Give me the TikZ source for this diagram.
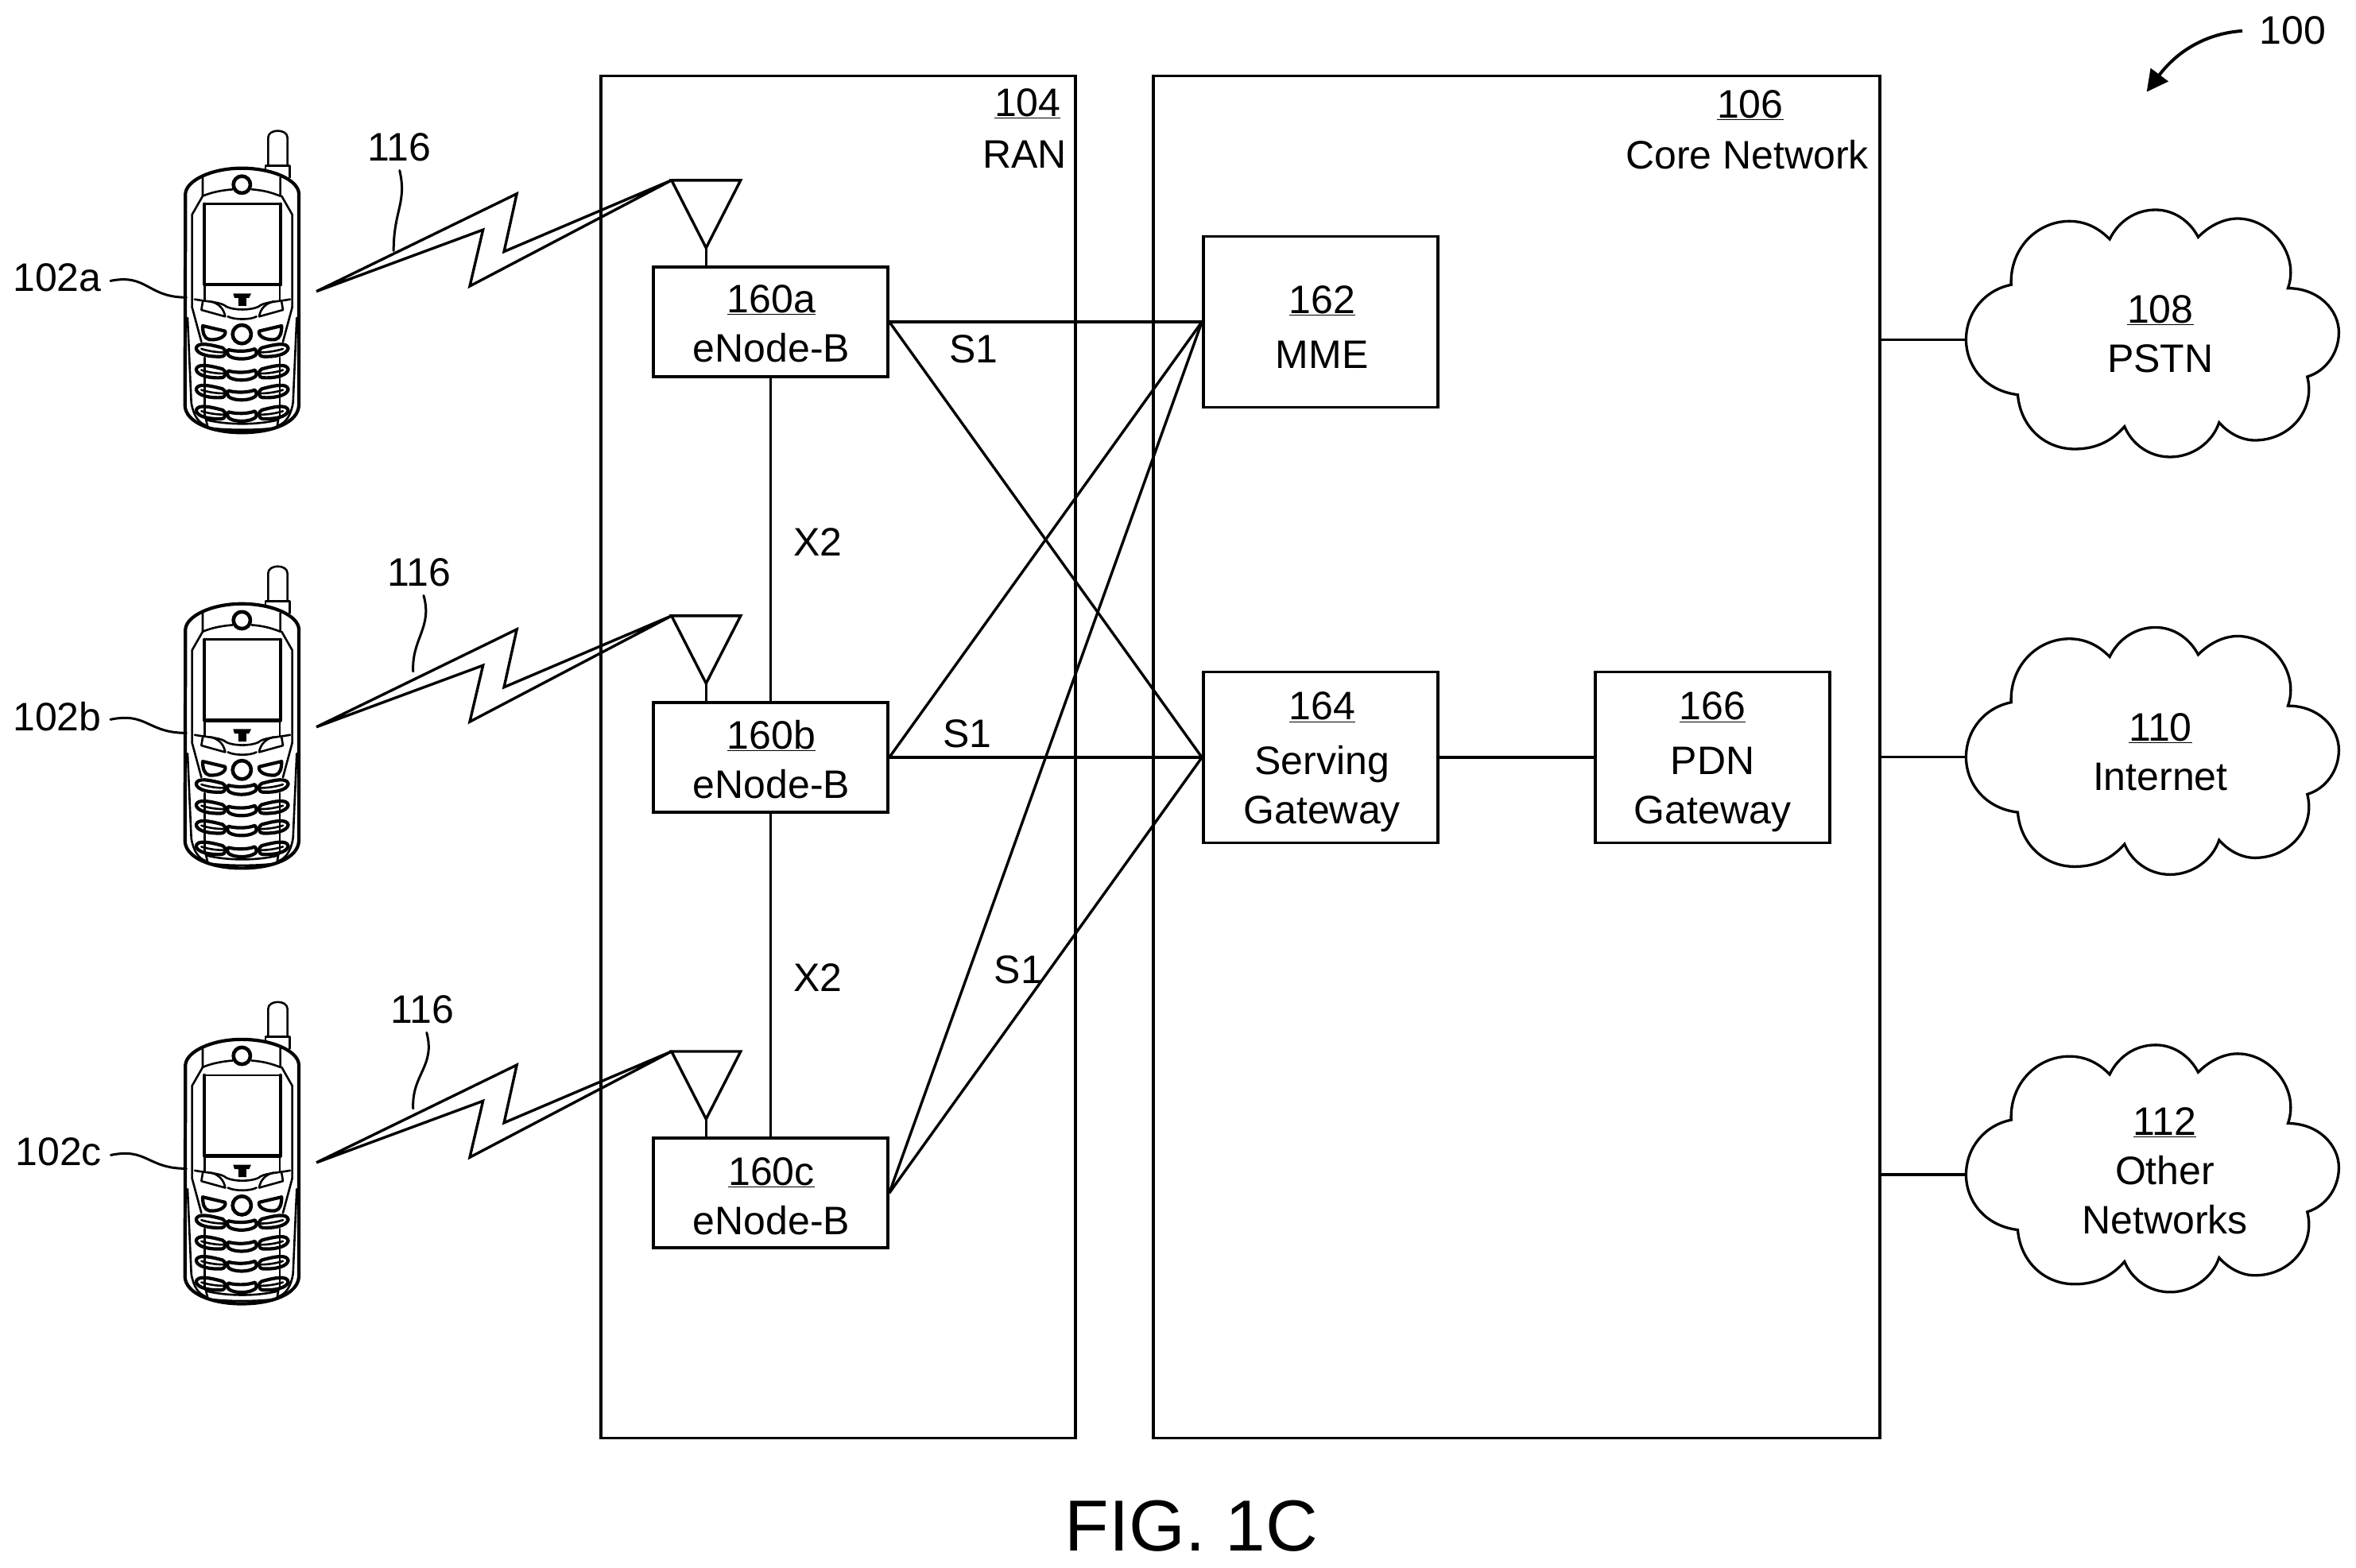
\documentclass[tikz,border=0pt]{standalone}
\usepackage{fontspec}
\setmainfont{Liberation Sans}
\usetikzlibrary{arrows.meta}
\tikzset{
  ln/.style={line width=3.4pt,line join=miter},
  lbl/.style={inner sep=0pt,font=\fontsize{50}{62}\selectfont,align=center},
  bigbox/.style={draw,ln,minimum width=#1,minimum height=1714pt,inner sep=0pt},
  smallbox/.style={draw,ln,minimum width=295pt,minimum height=138pt,inner sep=0pt},
  tallbox/.style={draw,ln,minimum width=295pt,minimum height=215pt,inner sep=0pt},
  ph/.style={line width=2.6pt,line join=round,line cap=round},
  phk/.style={line width=4.2pt,line join=round,line cap=round},
  leader/.style={line width=3pt,line cap=round},
}
\newcommand{\nm}[1]{\underline{#1}}
% cloud drawn around its left attachment point
\newcommand{\cloudat}[1]{%
  \begin{scope}[shift={(#1)},x=.3333pt,y=-.3333pt]
  \begin{scope}[shift={(-40,-562)}]
  \draw[ln,line width=3.3pt]
    (235,770) .. controls (110,755) and (40,660) .. (40,562)
    .. controls (40,460) and (110,375) .. (210,355)
    .. controls (205,215) and (310,115) .. (430,115)
    .. controls (490,115) and (540,140) .. (582,183)
    .. controls (615,115) and (680,72) .. (755,72)
    .. controls (825,72) and (885,115) .. (916,175)
    .. controls (960,130) and (1015,105) .. (1065,105)
    .. controls (1190,105) and (1300,240) .. (1255,368)
    .. controls (1370,368) and (1447,450) .. (1447,535)
    .. controls (1447,610) and (1400,680) .. (1328,702)
    .. controls (1360,830) and (1260,942) .. (1130,942)
    .. controls (1080,942) and (1030,915) .. (995,875)
    .. controls (970,950) and (895,1005) .. (810,1005)
    .. controls (730,1005) and (665,955) .. (638,890)
    .. controls (590,945) and (530,975) .. (450,975)
    .. controls (335,975) and (245,890) .. (235,770) -- cycle;
  \end{scope}\end{scope}}
\newcommand{\keyleft}[1]{%
  \draw[phk,yshift=#1*-.3333pt] (140,895) .. controls (145,870) and (190,880) .. (240,893)
     .. controls (255,900) and (255,925) .. (235,926)
     .. controls (195,928) and (145,920) .. (140,895) -- cycle;
  \draw[ph,yshift=#1*-.3333pt] (160,897) .. controls (185,905) and (215,910) .. (242,910);}
\newcommand{\softkeys}{%
  \draw[ph] (165,720) -- (160,750) -- (250,775) .. controls (245,745) and (225,725) .. (195,718);
  \draw[phk] (165,810) -- (250,830) .. controls (255,850) and (225,865) .. (190,862)
     .. controls (170,858) and (165,835) .. (165,810) -- cycle;
  \draw[ph] (125,740) -- (160,870);
  \draw[ph] (172,930) -- (172,1150);
  \draw[ph] (108,780) -- (122,1100) .. controls (130,1150) and (150,1175) .. (175,1185);
  \draw[ph] (165,320) -- (125,390) -- (125,740);
  \draw[ph] (172,655) -- (172,712);
  \keyleft{0}\keyleft{80}\keyleft{155}\keyleft{235}}
\newcommand{\phone}[1]{%
  \begin{scope}[shift={(105.82,{74.07+#1})},x=.3333pt,y=-.3333pt]
  \draw[ph] (412,205) -- (412,100) .. controls (412,65) and (485,65) .. (485,100) -- (485,205);
  \draw[ph] (402,225) -- (402,205) -- (493,205) -- (493,250);
  \draw[phk] (100,310) .. controls (105,260) and (200,215) .. (312,215)
     .. controls (430,215) and (525,260) .. (528,310) -- (528,1110)
     .. controls (525,1175) and (430,1213) .. (312,1213)
     .. controls (200,1213) and (100,1175) .. (98,1110) -- cycle;
  \draw[ph] (165,250) -- (165,320) .. controls (200,305) and (240,298) .. (278,295);
  \draw[ph] (458,250) -- (458,320) .. controls (420,305) and (390,298) .. (350,295);
  \draw[phk,line width=4.6pt] (313,277) circle [radius=32];
  \draw[phk] (172,350) -- (172,655) -- (458,655);
  \draw[ph] (172,350) -- (458,350);
  \draw[phk] (458,350) -- (458,655);
  \fill (280,688) -- (348,688) -- (340,705) -- (330,705) -- (330,735) -- (300,735) -- (300,705) -- (285,705) -- cycle;
  \draw[ph] (135,710) .. controls (190,720) and (235,720) .. (255,738) .. controls (285,752) and (345,752) .. (375,738) .. controls (395,720) and (440,720) .. (495,710);
  \draw[ph] (260,775) .. controls (285,788) and (345,788) .. (368,775);
  \draw[phk,line width=4.6pt] (313,842) circle [radius=35];
  \softkeys
  \begin{scope}[shift={(628,0)},xscale=-1]\softkeys\end{scope}
  \foreach \dy in {0,80,155,235}{
    \draw[phk,yshift=\dy*-.3333pt] (262,900) .. controls (290,908) and (335,908) .. (362,897)
       .. controls (372,910) and (368,922) .. (358,925) .. controls (335,938) and (290,938) .. (268,926)
       .. controls (258,922) and (256,908) .. (262,900) -- cycle;}
  \draw[ph] (175,1155) -- (185,1195);
  \draw[ph] (452,1155) -- (445,1195);
  \draw[ph] (178,1165) .. controls (260,1185) and (370,1185) .. (450,1165);
  \draw[ph] (185,1195) .. controls (260,1205) and (370,1205) .. (445,1195);
  \end{scope}}
\newcommand{\bolt}[1]{%
  \begin{scope}[yshift=#1*-1.89pt]
  \draw[ln,line join=miter,miter limit=20] (210.6,194) -- (344,129) -- (335.5,167.5) -- (447,120)
     -- (312.7,190.5) -- (321.5,153) -- cycle;
  \draw[ln,line join=miter] (447,120) -- (493,120) -- (470,165) -- cycle;
  \end{scope}}
\begin{document}
\begin{tikzpicture}[x=1.89pt,y=-1.89pt]
\fill[white] (0,0) rectangle (1568.25,1043.9);
\useasboundingbox (0,0) rectangle (1568.25,1043.9);
% containers
\node[bigbox=597pt] (ran) at (558,504) {};
\node[bigbox=914pt] (core) at (1009.5,504) {};
\node[lbl] (t104) at (684,69) {\nm{104}};
\node[lbl] (tran) at (682,103) {RAN};
\node[lbl] (t106) at (1165,70) {\nm{106}};
\node[lbl] (tcore) at (1163,103) {Core Network};
% phones
\phone{0}\phone{290}\phone{580}
% radio links
\bolt{0}\bolt{290}\bolt{580}
% boxes
\node[smallbox] (e1) at (513,214.25) {};
\node[smallbox] (e2) at (513,504.25) {};
\node[smallbox] (e3) at (513,794.25) {};
\node[tallbox] (mme) at (879,214.25) {};
\node[tallbox] (sgw) at (879,504.25) {};
\node[tallbox] (pdn) at (1140,504.25) {};
\node[lbl] (te1) at (513.5,215.5) {\nm{160a}\\eNode-B};
\node[lbl] (te2) at (513.5,505.5) {\nm{160b}\\eNode-B};
\node[lbl] (te3) at (513.5,796.5) {\nm{160c}\\eNode-B};
\node[lbl] (tmme) at (880,217.5) {\nm{162}\\[7pt]MME};
\node[lbl] (tsgw) at (880,507.5) {\nm{164}\\[7pt]Serving\\Gateway};
\node[lbl] (tpdn) at (1140,507.5) {\nm{166}\\[7pt]PDN\\Gateway};
% connectors
\draw[ln] (e1.south) -- (e2.north);
\draw[ln] (e2.south) -- (e3.north);
\coordinate (a1) at (470,165);\coordinate (a2) at (470,455);\coordinate (a3) at (470,745);
\draw[ln] (a1) -- (a1 |- e1.north);
\draw[ln] (a2) -- (a2 |- e2.north);
\draw[ln] (a3) -- (a3 |- e3.north);
\draw[ln] (e1.east) -- (mme.west);
\draw[ln] (e1.east) -- (sgw.west);
\draw[ln] (e2.east) -- (mme.west);
\draw[ln] (e2.east) -- (sgw.west);
\draw[ln] (e3.east) -- (mme.west);
\draw[ln] (e3.east) -- (sgw.west);
\draw[ln] (sgw.east) -- (pdn.west);
% clouds
\coordinate (c1) at (1308.7,226.1);
\coordinate (c2) at (1308.7,504.1);
\coordinate (c3) at (1308.7,782.1);
\cloudat{c1}\cloudat{c2}\cloudat{c3}
\draw[ln] (core.east |- c1) -- (c1);
\draw[ln] (core.east |- c2) -- (c2);
\draw[ln] (core.east |- c3) -- (c3);
\node[lbl] (t108) at (1438,222.5) {\nm{108}\\PSTN};
\node[lbl] (t110) at (1438,500.5) {\nm{110}\\Internet};
\node[lbl] (t112) at (1441,779.5) {\nm{112}\\Other\\Networks};
% link labels
\node[lbl] (x1) at (544.5,361) {X2};
\node[lbl] (x2) at (544.5,651) {X2};
\node[lbl] (s1) at (648,232.5) {S1};
\node[lbl] (s2) at (644,488.5) {S1};
\node[lbl] (s3) at (678,645.5) {S1};
% reference labels
\node[lbl] (l1) at (266,98) {116};
\node[lbl] (l2) at (279,381) {116};
\node[lbl] (l3) at (281,672) {116};
\coordinate (l1e) at (262,167);\coordinate (l2e) at (275,447);\coordinate (l3e) at (275,738);
\draw[leader] (l1.south) ++(0,6) .. controls (271,135) and (262,140) .. (l1e);
\draw[leader] (l2.south) ++(3,6) .. controls (288,418) and (274,425) .. (l2e);
\draw[leader] (l3.south) ++(3,6) .. controls (290,710) and (274,715) .. (l3e);
\node[lbl] (p1) at (38,185) {102a};
\node[lbl] (p2) at (38,477) {102b};
\node[lbl] (p3) at (39,767) {102c};
\coordinate (p1e) at (124,198);\coordinate (p2e) at (124,488);\coordinate (p3e) at (124,778);
\draw[leader] (p1.east) ++(6,2) .. controls (98,182) and (98,198) .. (p1e);
\draw[leader] (p2.east) ++(6,2) .. controls (98,474) and (98,488) .. (p2e);
\draw[leader] (p3.east) ++(6,2) .. controls (98,764) and (98,778) .. (p3e);
\node[lbl] (t100) at (1526,20) {100};
\coordinate (s100) at (1492.6,20.6);
\coordinate (tip) at (1428.9,61.2);
\draw[line width=4pt,-{Triangle[length=27pt,width=27pt]}] (s100) .. controls (1470,22) and (1450,33) .. (tip);
\node[lbl,font=\fontsize{91}{100}\selectfont] (fig) at (793,1016) {FIG. 1C};
\end{tikzpicture}
\end{document}
